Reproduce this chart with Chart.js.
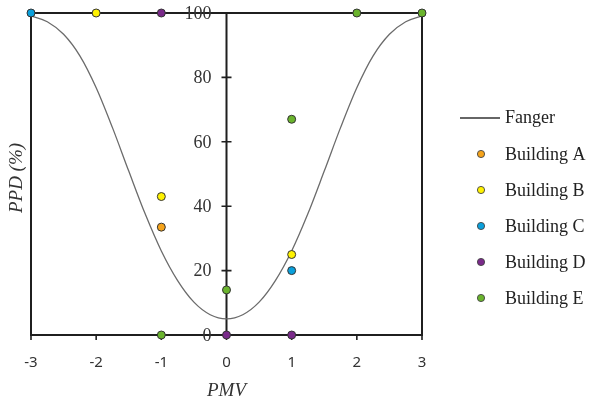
<!DOCTYPE html>
<html>
<head>
<meta charset="utf-8">
<script src="https://cdn.jsdelivr.net/npm/chart.js@4.4.1/dist/chart.umd.min.js"></script>
<style>
  html, body { margin: 0; padding: 0; background: #fff; }
  #wrap { width: 589px; height: 399px; }
</style>
</head>
<body>
<div id="wrap"><canvas id="chart" width="589" height="399"></canvas></div>
<script>
// axis ticks
const pmvTicks = [-3, -2, -1, 0, 1, 2, 3];
const ppdTicks = [0, 20, 40, 60, 80, 100];

// Fanger curve
const fangerPmv = [-3, -2.75, -2.5, -2.25, -2, -1.75, -1.5, -1.25, -1, -0.75, -0.5, -0.25, 0, 0.25, 0.5, 0.75, 1, 1.25, 1.5, 1.75, 2, 2.25, 2.5, 2.75, 3];
const fangerPpd = [99.1, 97.3, 93.4, 86.7, 76.8, 64.4, 50.9, 37.7, 26.1, 16.9, 10.2, 6.3, 5, 6.3, 10.2, 16.9, 26.1, 37.7, 50.9, 64.4, 76.8, 86.7, 93.4, 97.3, 99.1];

// measured buildings [PMV, PPD]
const buildingA = [[-1, 33.5]];
const buildingB = [[-2, 100], [-1, 43], [1, 25]];
const buildingC = [[-3, 100], [1, 20]];
const buildingD = [[-1, 100], [0, 0], [1, 0]];
const buildingE = [[2, 100], [3, 100], [1, 67], [0, 14], [-1, 0]];

const buildingNames = ['Building A', 'Building B', 'Building C', 'Building D', 'Building E'];
const buildingColors = ['#f5a31a', '#fff200', '#0aa0dc', '#7a2a8a', '#6ab42d'];

const serif = '"Liberation Serif", "DejaVu Serif", serif';
const sans = '"Noto Sans", "Open Sans", sans-serif';

const toPts = arr => arr.map(p => ({ x: p[0], y: p[1] }));

const datasets = [{
  label: 'Fanger',
  type: 'line',
  data: fangerPmv.map((v, i) => ({ x: v, y: fangerPpd[i] })),
  borderColor: '#6b6b6b',
  borderWidth: 1.3,
  pointRadius: 0,
  showLine: true,
  cubicInterpolationMode: 'monotone',
  fill: false,
  order: 1,
  clip: false
}];
[buildingA, buildingB, buildingC, buildingD, buildingE].forEach((b, i) => {
  datasets.push({
    label: buildingNames[i],
    data: toPts(b),
    backgroundColor: buildingColors[i],
    borderColor: '#333',
    borderWidth: 1,
    pointRadius: 4,
    order: 0,
    clip: false
  });
});

// box frame, center axis, ticks and titles
const axesPlugin = {
  id: 'axesPlugin',
  beforeDatasetsDraw(c) {
    const { ctx, chartArea: a, scales: { x, y } } = c;
    const x0 = x.getPixelForValue(0);
    ctx.save();
    ctx.strokeStyle = '#1f1f1f';
    ctx.lineWidth = 2;
    ctx.strokeRect(a.left, a.top, a.right - a.left, a.bottom - a.top);
    ctx.beginPath();
    ctx.moveTo(x0, a.top);
    ctx.lineTo(x0, a.bottom);
    ctx.stroke();

    ctx.lineWidth = 1.6;
    ctx.beginPath();
    ppdTicks.forEach(v => {
      const py = y.getPixelForValue(v);
      ctx.moveTo(x0 - 5, py);
      ctx.lineTo(x0 + 5, py);
    });
    pmvTicks.forEach(v => {
      const px = x.getPixelForValue(v);
      ctx.moveTo(px, a.bottom);
      ctx.lineTo(px, a.bottom + 5);
    });
    ctx.stroke();

    // tick labels
    ctx.fillStyle = '#333';
    ctx.font = '18px ' + serif;
    ctx.textAlign = 'right';
    ctx.textBaseline = 'middle';
    ppdTicks.forEach(v => {
      ctx.fillText(String(v), x0 - 15, y.getPixelForValue(v) + 1);
    });
    ctx.font = '15px ' + sans;
    ctx.textAlign = 'center';
    pmvTicks.forEach(v => {
      ctx.fillText(String(v), x.getPixelForValue(v), a.bottom + 28);
    });

    // axis titles
    ctx.font = 'italic 19px ' + serif;
    ctx.fillText('PMV', x0, a.bottom + 56);
    ctx.save();
    ctx.translate(17, (a.top + a.bottom) / 2 + 4);
    ctx.rotate(-Math.PI / 2);
    ctx.fillText('PPD (%)', 0, 0);
    ctx.restore();
    ctx.restore();
  },
  afterDraw(c) {
    const ctx = c.ctx;
    ctx.save();
    ctx.font = '18px ' + serif;
    ctx.textAlign = 'left';
    ctx.textBaseline = 'middle';
    ctx.fillStyle = '#222';
    // Fanger line entry
    ctx.strokeStyle = '#333';
    ctx.lineWidth = 1.3;
    ctx.beginPath();
    ctx.moveTo(460, 118);
    ctx.lineTo(500, 118);
    ctx.stroke();
    ctx.fillText('Fanger', 505, 118);
    buildingNames.forEach((name, i) => {
      const yy = 154 + i * 36;
      ctx.beginPath();
      ctx.arc(481, yy, 3.6, 0, Math.PI * 2);
      ctx.fillStyle = buildingColors[i];
      ctx.fill();
      ctx.strokeStyle = '#444';
      ctx.lineWidth = 0.9;
      ctx.stroke();
      ctx.fillStyle = '#222';
      ctx.fillText(name, 505, yy + 1);
    });
    ctx.restore();
  }
};

new Chart(document.getElementById('chart').getContext('2d'), {
  type: 'scatter',
  data: { datasets: datasets },
  options: {
    responsive: false,
    animation: false,
    layout: { padding: { left: 31, right: 167, top: 13, bottom: 64 } },
    plugins: { legend: { display: false }, tooltip: { enabled: false } },
    scales: {
      x: { type: 'linear', min: -3, max: 3, display: false },
      y: { type: 'linear', min: 0, max: 100, display: false }
    }
  },
  plugins: [axesPlugin]
});
</script>
</body>
</html>
